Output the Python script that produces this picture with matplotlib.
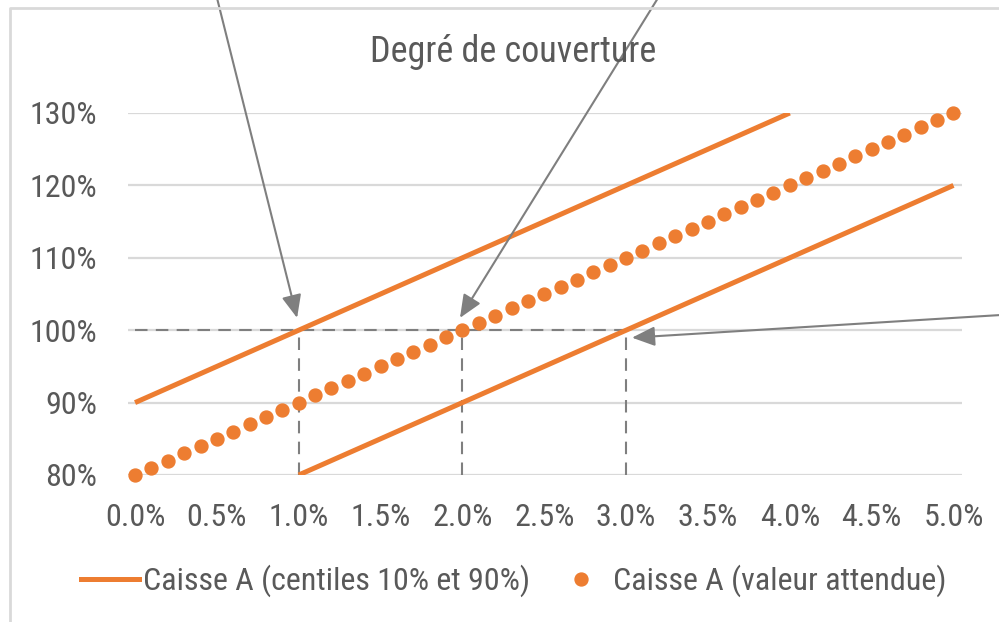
import matplotlib
matplotlib.use("Agg")
import matplotlib.pyplot as plt
from matplotlib.lines import Line2D

plt.rcParams['font.family'] = ['Roboto Condensed', 'Liberation Sans', 'DejaVu Sans']

# ---- data ----
title = "Degré de couverture"
label_band = "Caisse A (centiles 10% et 90%)"
label_mid = "Caisse A (valeur attendue)"

x_hi = [0.0, 0.5, 1.0, 1.5, 2.0, 2.5, 3.0, 3.5, 4.0]
y_hi = [90, 95, 100, 105, 110, 115, 120, 125, 130]

x_lo = [1.0, 1.5, 2.0, 2.5, 3.0, 3.5, 4.0, 4.5, 5.0]
y_lo = [80, 85, 90, 95, 100, 105, 110, 115, 120]

x_mid = [0.0, 0.1, 0.2, 0.3, 0.4, 0.5, 0.6, 0.7, 0.8, 0.9,
         1.0, 1.1, 1.2, 1.3, 1.4, 1.5, 1.6, 1.7, 1.8, 1.9,
         2.0, 2.1, 2.2, 2.3, 2.4, 2.5, 2.6, 2.7, 2.8, 2.9,
         3.0, 3.1, 3.2, 3.3, 3.4, 3.5, 3.6, 3.7, 3.8, 3.9,
         4.0, 4.1, 4.2, 4.3, 4.4, 4.5, 4.6, 4.7, 4.8, 4.9, 5.0]
y_mid = [80, 81, 82, 83, 84, 85, 86, 87, 88, 89,
         90, 91, 92, 93, 94, 95, 96, 97, 98, 99,
         100, 101, 102, 103, 104, 105, 106, 107, 108, 109,
         110, 111, 112, 113, 114, 115, 116, 117, 118, 119,
         120, 121, 122, 123, 124, 125, 126, 127, 128, 129, 130]

x_ticks = [0.0, 0.5, 1.0, 1.5, 2.0, 2.5, 3.0, 3.5, 4.0, 4.5, 5.0]
y_ticks = [80, 90, 100, 110, 120, 130]

guide_level = 100
guide_x = [1.0, 2.0, 3.0]

ORANGE = "#ED7D31"
GREY = "#7F7F7F"
GRID = "#D9D9D9"
TXT = "#595959"
FS = 23

fig = plt.figure(figsize=(9.99, 6.22), dpi=100)
ax = fig.add_axes([128/999, (622-475)/622, 834/999, 362/622])

ax.set_xlim(-0.043, 5.052)
ax.set_ylim(80, 130)
for s in ax.spines.values():
    s.set_visible(False)
ax.set_yticks(y_ticks)
ax.set_yticklabels([f"{v}%" for v in y_ticks])
ax.set_xticks(x_ticks)
ax.set_xticklabels([f"{v:.1f}%" for v in x_ticks])
ax.tick_params(axis='both', length=0, labelsize=FS, labelcolor=TXT)
ax.tick_params(axis='y', pad=22)
ax.tick_params(axis='x', pad=20)
ax.grid(axis='y', color=GRID, lw=1.6)
ax.set_axisbelow(True)

ax.plot([0, guide_x[-1]], [guide_level, guide_level], color=GREY, lw=1.5,
        ls=(0, (6, 4)), zorder=2)
for gx in guide_x:
    ax.plot([gx, gx], [80, guide_level], color=GREY, lw=1.5, ls=(0, (6, 4)), zorder=2)

ax.plot(x_hi, y_hi, color=ORANGE, lw=3.6, solid_capstyle='butt', zorder=3)
ax.plot(x_lo, y_lo, color=ORANGE, lw=3.6, solid_capstyle='butt', zorder=3)
ax.plot(x_mid, y_mid, ls='none', marker='o', ms=9.3, color=ORANGE, mec=ORANGE,
        zorder=4, clip_on=False)

arrow_kw = dict(arrowstyle='-|>,head_length=0.7,head_width=0.3', color=GREY, lw=1.5,
                shrinkA=0, shrinkB=0, mutation_scale=20)
ax.annotate("", xy=(0.99, 101.7), xycoords='data', xytext=(217, 624),
            textcoords='figure pixels', arrowprops=arrow_kw, annotation_clip=False)
ax.annotate("", xy=(1.985, 101.7), xycoords='data', xytext=(658, 624),
            textcoords='figure pixels', arrowprops=arrow_kw, annotation_clip=False)
ax.annotate("", xy=(3.036, 98.97), xycoords='data', xytext=(1001, 307),
            textcoords='figure pixels', arrowprops=arrow_kw, annotation_clip=False)

fig.add_artist(Line2D([10/999, 10/999, 1.05], [-0.05, 614/622, 614/622],
                      transform=fig.transFigure, color=GRID, lw=2))

fig.text(513/999, (622-62)/622, title, ha='center', va='baseline', fontsize=26, color=TXT)

h1 = Line2D([], [], color=ORANGE, lw=3.6)
h2 = Line2D([], [], ls='none', marker='o', ms=9.3, color=ORANGE)
leg = fig.legend([h1, h2], [label_band, label_mid], ncol=2, loc='center',
                 bbox_to_anchor=(514/999, (622-581)/622), frameon=False,
                 fontsize=FS, labelcolor=TXT, handlelength=1.8, handletextpad=0.12,
                 columnspacing=0.7, borderpad=0)

fig.savefig("out.png", dpi=100)
